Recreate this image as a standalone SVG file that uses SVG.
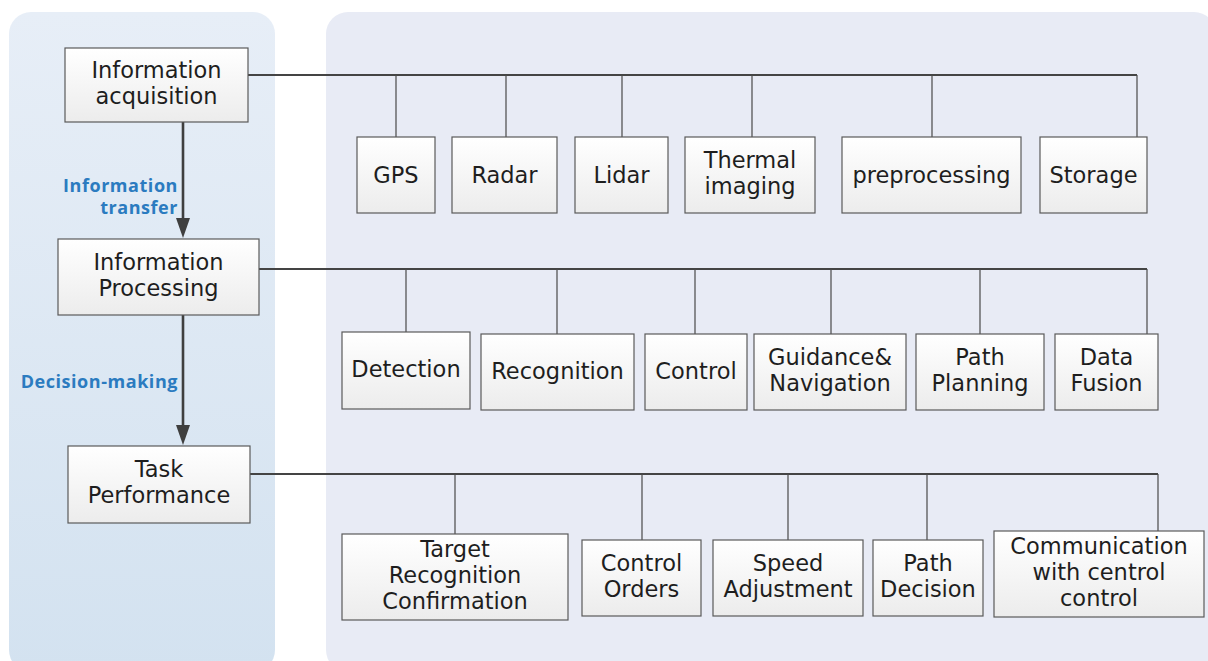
<svg xmlns="http://www.w3.org/2000/svg" width="1208" height="661" viewBox="0 0 1208 661">
  <defs>
    <linearGradient id="leftBg" x1="0" y1="0" x2="0" y2="1">
      <stop offset="0" stop-color="#e7eef7"/>
      <stop offset="1" stop-color="#d3e2f0"/>
    </linearGradient>
    <linearGradient id="boxFill" x1="0" y1="0" x2="0" y2="1">
      <stop offset="0" stop-color="#ffffff"/>
      <stop offset="1" stop-color="#ececec"/>
    </linearGradient>
    <marker id="arrow" markerUnits="userSpaceOnUse" markerWidth="20" markerHeight="14" refX="12" refY="7" orient="auto">
      <path d="M0,0 L20,7 L0,14 z" fill="#3f3f3f"/>
    </marker>
  </defs>
  <style>
    .box { fill: url(#boxFill); stroke: #5a5a5a; stroke-width: 1.2; }
    .t { font-family: "DejaVu Sans", "Open Sans", sans-serif; font-size: 22.5px; fill: #1e1e1e; text-anchor: middle; }
    .lbl { font-family: "Open Sans", "Noto Sans", "DejaVu Sans", sans-serif; font-size: 18px; font-weight: bold; letter-spacing: 0.55px; fill: #2b7bc0; text-anchor: end; }
    .bus { fill: none; stroke: #444444; stroke-width: 2; }
    .drop { fill: none; stroke: #4a4a4a; stroke-width: 1.2; }
    .flow { fill: none; stroke: #3f3f3f; stroke-width: 2.6; }
  </style>

  <rect id="panel-left" x="9" y="12" width="266" height="660" rx="22" fill="url(#leftBg)"/>
  <rect id="panel-right" x="326" y="12" width="890" height="660" rx="22" fill="#e8ebf5"/>

  <g id="connectors">
    <line class="flow" x1="183" y1="122" x2="183" y2="230" marker-end="url(#arrow)"/>
    <line class="flow" x1="183" y1="315" x2="183" y2="437" marker-end="url(#arrow)"/>
    <path class="bus" d="M247,75 H1137"/>
    <path class="drop" d="M396,75 V137 M506,75 V137 M622,75 V137 M752,75 V137 M932,75 V137 M1137,75 V137"/>
    <path class="bus" d="M259,269 H1147"/>
    <path class="drop" d="M406,269 V332 M557,269 V334 M695,269 V334 M831,269 V334 M980,269 V334 M1147,269 V334"/>
    <path class="bus" d="M250,474 H1158"/>
    <path class="drop" d="M455,474 V534 M642,474 V540 M788,474 V540 M927,474 V540 M1158,474 V531"/>
  </g>

  <g id="label-transfer">
    <text class="lbl" x="178" y="192">Information</text>
    <text class="lbl" x="178" y="214">transfer</text>
  </g>
  <g id="label-decision">
    <text class="lbl" x="178" y="388">Decision-making</text>
  </g>

  <g id="n-acq">
    <rect class="box" x="65" y="48" width="183" height="74"/>
    <text class="t" x="156.5" y="77.5">Information</text>
    <text class="t" x="156.5" y="103.5">acquisition</text>
  </g>
  <g id="n-proc">
    <rect class="box" x="58" y="239" width="201" height="76"/>
    <text class="t" x="158.5" y="269.5">Information</text>
    <text class="t" x="158.5" y="295.5">Processing</text>
  </g>
  <g id="n-task">
    <rect class="box" x="68" y="446" width="182" height="77"/>
    <text class="t" x="159" y="477">Task</text>
    <text class="t" x="159" y="503">Performance</text>
  </g>

  <g id="n-gps">
    <rect class="box" x="357" y="137" width="78" height="76"/>
    <text class="t" x="396" y="183">GPS</text>
  </g>
  <g id="n-radar">
    <rect class="box" x="452" y="137" width="105" height="76"/>
    <text class="t" x="504.5" y="183">Radar</text>
  </g>
  <g id="n-lidar">
    <rect class="box" x="575" y="137" width="93" height="76"/>
    <text class="t" x="621.5" y="183">Lidar</text>
  </g>
  <g id="n-thermal">
    <rect class="box" x="685" y="137" width="130" height="76"/>
    <text class="t" x="750" y="167.5">Thermal</text>
    <text class="t" x="750" y="193.5">imaging</text>
  </g>
  <g id="n-prep">
    <rect class="box" x="842" y="137" width="179" height="76"/>
    <text class="t" x="931.5" y="183">preprocessing</text>
  </g>
  <g id="n-storage">
    <rect class="box" x="1040" y="137" width="107" height="76"/>
    <text class="t" x="1093.5" y="183">Storage</text>
  </g>

  <g id="n-detection">
    <rect class="box" x="342" y="332" width="128" height="77"/>
    <text class="t" x="406" y="377">Detection</text>
  </g>
  <g id="n-recognition">
    <rect class="box" x="481" y="334" width="153" height="76"/>
    <text class="t" x="557.5" y="379">Recognition</text>
  </g>
  <g id="n-control">
    <rect class="box" x="645" y="334" width="102" height="76"/>
    <text class="t" x="696" y="379">Control</text>
  </g>
  <g id="n-guidance">
    <rect class="box" x="754" y="334" width="152" height="76"/>
    <text class="t" x="830" y="364.5">Guidance&amp;</text>
    <text class="t" x="830" y="390.5">Navigation</text>
  </g>
  <g id="n-pathplan">
    <rect class="box" x="916" y="334" width="128" height="76"/>
    <text class="t" x="980" y="364.5">Path</text>
    <text class="t" x="980" y="390.5">Planning</text>
  </g>
  <g id="n-fusion">
    <rect class="box" x="1055" y="334" width="103" height="76"/>
    <text class="t" x="1106.5" y="364.5">Data</text>
    <text class="t" x="1106.5" y="390.5">Fusion</text>
  </g>

  <g id="n-target">
    <rect class="box" x="342" y="534" width="226" height="86"/>
    <text class="t" x="455" y="557">Target</text>
    <text class="t" x="455" y="583">Recognition</text>
    <text class="t" x="455" y="609">Confirmation</text>
  </g>
  <g id="n-orders">
    <rect class="box" x="582" y="540" width="119" height="76"/>
    <text class="t" x="641.5" y="570.5">Control</text>
    <text class="t" x="641.5" y="596.5">Orders</text>
  </g>
  <g id="n-speed">
    <rect class="box" x="713" y="540" width="150" height="76"/>
    <text class="t" x="788" y="570.5">Speed</text>
    <text class="t" x="788" y="596.5">Adjustment</text>
  </g>
  <g id="n-pathdec">
    <rect class="box" x="873" y="540" width="110" height="76"/>
    <text class="t" x="928" y="570.5">Path</text>
    <text class="t" x="928" y="596.5">Decision</text>
  </g>
  <g id="n-comm">
    <rect class="box" x="994" y="531" width="210" height="86"/>
    <text class="t" x="1099" y="554">Communication</text>
    <text class="t" x="1099" y="580">with centrol</text>
    <text class="t" x="1099" y="606">control</text>
  </g>
</svg>
